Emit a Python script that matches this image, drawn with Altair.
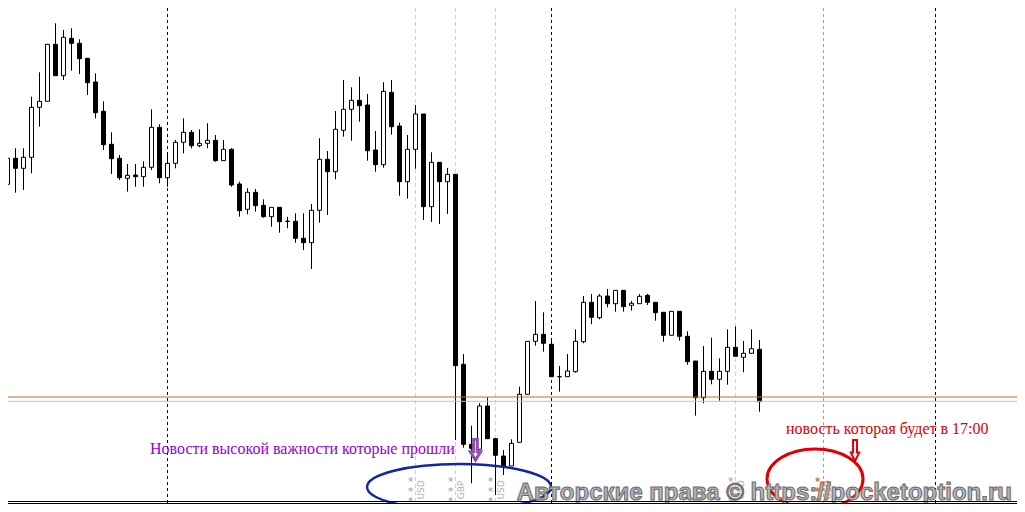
import altair as alt
import pandas as pd

# ---------------- data ----------------
bar_index = list(range(-1, 95))
open_ = [1.28030, 1.28157, 1.28417, 1.28317, 1.28427, 1.28927, 1.28987, 1.29557, 1.29243, 1.29617,
         1.29567, 1.29417, 1.29180, 1.28887, 1.28557, 1.28417, 1.28217, 1.28250, 1.28233, 1.28327,
         1.28727, 1.28223, 1.28367, 1.28577, 1.28677, 1.28543, 1.28567, 1.28597, 1.28393, 1.28507,
         1.28160, 1.27907, 1.28077, 1.27947, 1.27833, 1.27927, 1.27787, 1.27787, 1.27617, 1.27573,
         1.27897, 1.28407, 1.28283, 1.28697, 1.28907, 1.28997, 1.28950, 1.28500, 1.28353, 1.29077,
         1.28740, 1.28183, 1.28507, 1.28860, 1.27933, 1.28377, 1.28183, 1.28257, 1.26357, 1.25557,
         1.25507, 1.25940, 1.25613, 1.25440, 1.25340, 1.25577, 1.26057, 1.26587, 1.26657, 1.26557,
         1.26233, 1.26233, 1.26283, 1.26583, 1.26977, 1.26823, 1.27040, 1.26963, 1.27097, 1.26947,
         1.26963, 1.27047, 1.26977, 1.26877, 1.26647, 1.26887, 1.26637, 1.26390, 1.26023, 1.26287,
         1.26207, 1.26287, 1.26527, 1.26427, 1.26467, 1.26507]
high = [1.28160, 1.28617, 1.28517, 1.28517, 1.29033, 1.29277, 1.29557, 1.29767, 1.29700, 1.29717,
        1.29607, 1.29417, 1.29267, 1.28987, 1.28677, 1.28450, 1.28360, 1.28360, 1.28387, 1.28907,
        1.28757, 1.28467, 1.28600, 1.28817, 1.28700, 1.28707, 1.28767, 1.28650, 1.28600, 1.28517,
        1.28183, 1.28117, 1.28110, 1.28007, 1.27927, 1.27927, 1.27833, 1.27867, 1.27867, 1.27960,
        1.28617, 1.28490, 1.28890, 1.29200, 1.29127, 1.29233, 1.29060, 1.28690, 1.29177, 1.29200,
        1.28773, 1.28650, 1.28950, 1.28860, 1.28477, 1.28377, 1.28320, 1.28260, 1.26460, 1.25743,
        1.25967, 1.26027, 1.25613, 1.25500, 1.25607, 1.26133, 1.26587, 1.26990, 1.26877, 1.26607,
        1.26340, 1.26460, 1.26707, 1.27040, 1.27060, 1.27060, 1.27110, 1.27097, 1.27097, 1.26990,
        1.27060, 1.27060, 1.26977, 1.26877, 1.26887, 1.26887, 1.26687, 1.26390, 1.26540, 1.26623,
        1.26417, 1.26707, 1.26737, 1.26590, 1.26707, 1.26600]
low = [1.28020, 1.28133, 1.28073, 1.28100, 1.28267, 1.28733, 1.28987, 1.29243, 1.29200, 1.29293,
       1.29260, 1.29050, 1.28817, 1.28500, 1.28260, 1.28200, 1.28083, 1.28133, 1.28133, 1.28300,
       1.28167, 1.28133, 1.28317, 1.28467, 1.28517, 1.28527, 1.28517, 1.28383, 1.28393, 1.28133,
       1.27833, 1.27857, 1.27883, 1.27823, 1.27733, 1.27673, 1.27717, 1.27573, 1.27500, 1.27310,
       1.27773, 1.27850, 1.28207, 1.28633, 1.28593, 1.28783, 1.28393, 1.28283, 1.28323, 1.28653,
       1.28043, 1.28013, 1.28313, 1.27800, 1.27780, 1.27760, 1.27860, 1.25600, 1.25523, 1.25167,
       1.25507, 1.25613, 1.25050, 1.25250, 1.25340, 1.25577, 1.26057, 1.26543, 1.26483, 1.26233,
       1.26083, 1.26233, 1.26273, 1.26567, 1.26757, 1.26807, 1.26927, 1.26883, 1.26883, 1.26893,
       1.26963, 1.26950, 1.26793, 1.26583, 1.26647, 1.26593, 1.26353, 1.25843, 1.25967, 1.26157,
       1.25993, 1.26153, 1.26437, 1.26277, 1.26467, 1.25883]
close = [1.28150, 1.28417, 1.28317, 1.28427, 1.28927, 1.28987, 1.29557, 1.29243, 1.29627, 1.29567,
         1.29413, 1.29173, 1.28873, 1.28553, 1.28413, 1.28223, 1.28247, 1.28233, 1.28327, 1.28727,
         1.28223, 1.28367, 1.28577, 1.28677, 1.28543, 1.28567, 1.28597, 1.28393, 1.28507, 1.28150,
         1.27893, 1.28077, 1.27943, 1.27833, 1.27927, 1.27783, 1.27787, 1.27617, 1.27573, 1.27897,
         1.28407, 1.28283, 1.28707, 1.28907, 1.28997, 1.28943, 1.28493, 1.28353, 1.29087, 1.28733,
         1.28183, 1.28507, 1.28860, 1.27933, 1.28377, 1.28183, 1.28257, 1.26343, 1.25557, 1.25517,
         1.25940, 1.25613, 1.25447, 1.25340, 1.25567, 1.26057, 1.26587, 1.26657, 1.26567, 1.26233,
         1.26233, 1.26290, 1.26587, 1.26977, 1.26827, 1.27040, 1.26963, 1.27097, 1.26933, 1.26967,
         1.27037, 1.26977, 1.26873, 1.26647, 1.26887, 1.26637, 1.26383, 1.26023, 1.26287, 1.26207,
         1.26287, 1.26527, 1.26437, 1.26467, 1.26513, 1.25983]

day_separators = [20, 68, 116]
past_news_bars = [51, 56, 61, 91]
past_news_ccy = ["USD", "GBP", "USD", "USD"]
future_news_bars = [102]
future_news_ccy = ["USD"]
level_prices = [1.26030, 1.25987]
level_colors = ["#d2691e", "#c0c0c0"]

past_label = "Новости высокой важности которые прошли"
future_label = "новость которая будет в 17:00"
watermark = "Авторские права © https://pocketoption.ru"

# ---------------- frames ----------------
candles = pd.DataFrame({"i": bar_index, "open": open_, "high": high, "low": low, "close": close})
candles["dir"] = ["up" if c > o else "down" for o, c in zip(open_, close)]

W, H = 1009, 496
X = alt.Scale(domain=[0.0625, 126.1875], nice=False, zero=False, padding=0)
Y = alt.Scale(domain=[1.2496, 1.2992], nice=False, zero=False, padding=0)


def xq(f):
    return alt.X(f, type="quantitative", scale=X, axis=None)


def yq(f):
    return alt.Y(f, type="quantitative", scale=Y, axis=None)


sep_df = pd.DataFrame({"i": day_separators})
news_df = pd.DataFrame({"i": past_news_bars})
fut_df = pd.DataFrame({"i": future_news_bars})
lev_df = pd.DataFrame({"p": level_prices, "c": level_colors})

sep = alt.Chart(sep_df).mark_rule(color="black", strokeWidth=1, strokeDash=[3, 3]).encode(x=xq("i:Q"))
news_lines = alt.Chart(news_df).mark_rule(color="#d0d0d0", strokeWidth=1, strokeDash=[4, 3]).encode(x=xq("i:Q"))
fut_lines = alt.Chart(fut_df).mark_rule(color="#e89a00", strokeWidth=1, strokeDash=[3, 3]).encode(x=xq("i:Q"))

wicks = alt.Chart(candles).mark_rule(color="black", strokeWidth=1).encode(
    x=xq("i:Q"), y=yq("low:Q"), y2="high:Q")
bodies = alt.Chart(candles).mark_bar(size=4, stroke="black", strokeWidth=1).encode(
    x=xq("i:Q"), y=yq("open:Q"), y2="close:Q",
    fill=alt.Fill("dir:N", scale=alt.Scale(domain=["up", "down"], range=["white", "black"]), legend=None))

levels = alt.Chart(lev_df).mark_rule(strokeWidth=1).encode(
    y=yq("p:Q"), color=alt.Color("c:N", scale=None))

# news markers (stars + rotated currency)
star_levels = (1.25200, 1.25100, 1.25005)
star_rows = []
for b in past_news_bars:
    for p in star_levels:
        star_rows.append({"x": b - 0.65, "y": p, "col": "#b8b8b8"})
for b in future_news_bars:
    for p in star_levels:
        star_rows.append({"x": b - 0.75, "y": p, "col": "#f07020"})
stars = alt.Chart(pd.DataFrame(star_rows)).mark_text(fontSize=8, text="★").encode(
    x=xq("x:Q"), y=yq("y:Q"), color=alt.Color("col:N", scale=None))

ccy_rows = [{"x": b + 0.7, "y": 1.25100, "t": c, "col": "#b0b0b0"} for b, c in zip(past_news_bars, past_news_ccy)]
ccy_rows += [{"x": b + 0.5, "y": 1.25100, "t": c, "col": "#f07020"} for b, c in zip(future_news_bars, future_news_ccy)]
ccy = alt.Chart(pd.DataFrame(ccy_rows)).mark_text(fontSize=9, angle=270, font="DejaVu Sans",
                                                  align="center", baseline="middle").encode(
    x=xq("x:Q"), y=yq("y:Q"), text="t:N", color=alt.Color("col:N", scale=None))

# annotations
past_txt = alt.Chart(pd.DataFrame({"x": [17.81], "y": [1.25460], "t": [past_label]})).mark_text(
    align="left", baseline="alphabetic", font="Liberation Serif", fontSize=16, color="#9400d3").encode(
    x=xq("x:Q"), y=yq("y:Q"), text="t:N")
fut_txt = alt.Chart(pd.DataFrame({"x": [97.31], "y": [1.25660], "t": [future_label]})).mark_text(
    align="left", baseline="alphabetic", font="Liberation Serif", fontSize=16, color="#e00000").encode(
    x=xq("x:Q"), y=yq("y:Q"), text="t:N")

arrow_p = "M-0.18,-1 L0.18,-1 L0.18,0.18 L0.5,0.18 L0,1 L-0.5,0.18 L-0.18,0.18 Z"
arrow_r = "M-0.19,-1 L0.19,-1 L0.19,0.2 L0.4,0.2 L0,1 L-0.4,0.2 L-0.19,0.2 Z"
arr1 = alt.Chart(pd.DataFrame({"x": [58.5], "y": [1.25502]})).mark_point(
    shape=arrow_p, size=424, filled=False, stroke="#9050b0", strokeWidth=3, opacity=1).encode(
    x=xq("x:Q"), y=yq("y:Q"))
arr2 = alt.Chart(pd.DataFrame({"x": [105.94], "y": [1.25495]})).mark_point(
    shape=arrow_r, size=441, filled=False, stroke="#e00000", strokeWidth=2, opacity=1).encode(
    x=xq("x:Q"), y=yq("y:Q"))

ell_b = ("M-1,0 C-1,-0.138 -0.5523,-0.25 0,-0.25 C0.5523,-0.25 1,-0.138 1,0 "
         "C1,0.138 0.5523,0.25 0,0.25 C-0.5523,0.25 -1,0.138 -1,0 Z")
ell_r = ("M-1,0 C-1,-0.345 -0.5523,-0.625 0,-0.625 C0.5523,-0.625 1,-0.345 1,0 "
         "C1,0.345 0.5523,0.625 0,0.625 C-0.5523,0.625 -1,0.345 -1,0 Z")
e1 = alt.Chart(pd.DataFrame({"x": [56.44], "y": [1.25130]})).mark_point(
    shape=ell_b, size=33856, filled=False, stroke="#14289a", strokeWidth=2.5, opacity=1).encode(
    x=xq("x:Q"), y=yq("y:Q"))
e2 = alt.Chart(pd.DataFrame({"x": [100.94], "y": [1.25210]})).mark_point(
    shape=ell_r, size=9216, filled=False, stroke="#e00000", strokeWidth=3, opacity=1).encode(
    x=xq("x:Q"), y=yq("y:Q"))

wm = alt.Chart(pd.DataFrame({"x": [94.6], "y": [1.25000], "t": [watermark]})).mark_text(
    align="center", baseline="alphabetic", font="Liberation Sans", fontSize=24, fontWeight="bold",
    fill="#b4b4b4", stroke="#6a6a6a", strokeWidth=1).encode(
    x=xq("x:Q"), y=yq("y:Q"), text="t:N")

frame = alt.Chart(pd.DataFrame({"k": [0, 1]})).mark_rule(color="black", strokeWidth=1).encode(
    x=alt.value(0), x2=alt.value(W), y=alt.value(493.5))
frame2 = alt.Chart(pd.DataFrame({"k": [0, 1]})).mark_rule(color="black", strokeWidth=1).encode(
    x=alt.value(0), x2=alt.value(W), y=alt.value(495.5))

chart = alt.layer(
    news_lines, fut_lines, sep, wicks, bodies, levels, stars, ccy,
    past_txt, fut_txt, arr1, arr2, e1, e2, wm, frame, frame2
).properties(
    width=W, height=H, padding=0, autosize=alt.AutoSizeParams(type="none"), background="white"
).configure_view(stroke=None)

chart.save("out.html", embed_options={"renderer": "svg", "actions": False})
